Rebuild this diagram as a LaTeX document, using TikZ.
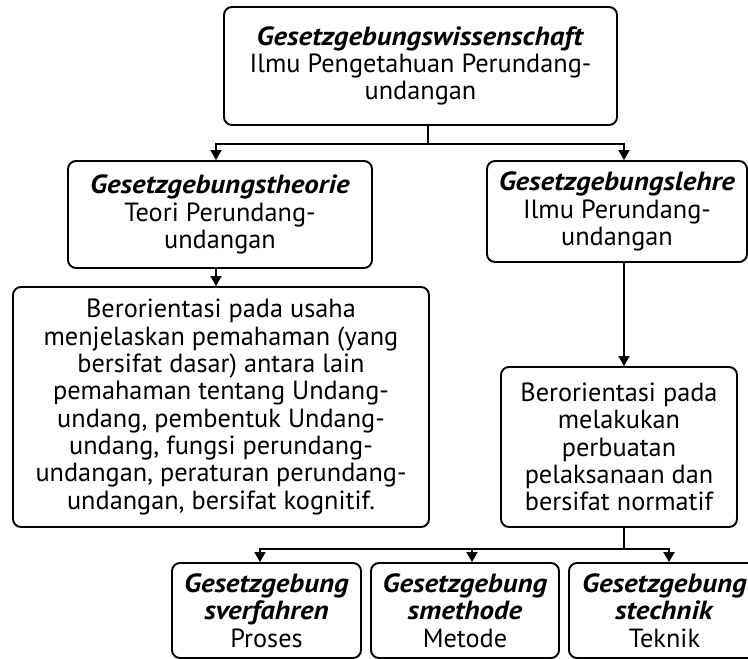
\documentclass[tikz,border=0pt]{standalone}
\usepackage{fontspec}
\setmainfont{PT Sans}[BoldItalicFeatures={FakeStretch=1.1}]
\usetikzlibrary{arrows.meta}
\begin{document}
\begin{tikzpicture}[x=1pt,y=-1pt,
  box/.style={draw, line width=1.9pt, rounded corners=8pt, align=center, inner sep=0pt,
    font=\fontsize{26.3}{27.3}\selectfont},
  conn/.style={line width=1.9pt},
  arr/.style={conn, -{Triangle[length=10pt,width=11pt]}}]
\useasboundingbox (0,0) rectangle (748,659);
\newcommand{\bi}[1]{\textbf{\textit{#1}}}
\node[box, minimum width=393, minimum height=118] (top) at (420.5,66)
  {\bi{Gesetzgebungswissenschaft}\\Ilmu Pengetahuan Perundang-\\undangan};
\node[box, minimum width=304, minimum height=107] (L2) at (220,214.5)
  {\bi{Gesetzgebungstheorie}\\Teori Perundang-\\undangan};
\node[box, minimum width=260, minimum height=101] (R2) at (617,211.5)
  {\bi{Gesetzgebungslehre}\\Ilmu Perundang-\\undangan};
\node[box, minimum width=416, minimum height=240] (L3) at (221,407)
  {Berorientasi pada usaha\\menjelaskan pemahaman (yang\\bersifat dasar) antara lain\\pemahaman tentang Undang-\\undang, pembentuk Undang-\\undang, fungsi perundang-\\undangan, peraturan perundang-\\undangan, bersifat kognitif.};
\node[box, minimum width=236, minimum height=160] (R4) at (619,447)
  {Berorientasi pada\\melakukan\\perbuatan\\pelaksanaan dan\\bersifat normatif};
\node[box, minimum width=189, minimum height=95] (B1) at (266.5,610.5)
  {\bi{Gesetzgebung}\\\bi{sverfahren}\\Proses};
\node[box, minimum width=188, minimum height=95] (B2) at (465,610.5)
  {\bi{Gesetzgebung}\\\bi{smethode}\\Metode};
\node[box, minimum width=191, minimum height=95] (B3) at (664.5,610.5)
  {\bi{Gesetzgebung}\\\bi{stechnik}\\Teknik};
\coordinate (jt) at (428,144);
\coordinate (xL) at (216,0);
\coordinate (xR) at (624,0);
\coordinate (jb) at (624,549);
\coordinate (x1) at (260,0);
\coordinate (x2) at (472,0);
\coordinate (x3) at (669,0);
\draw[conn] (top.south -| jt) -- (jt);
\draw[arr] (jt) -| (L2.north -| xL);
\draw[arr] (jt) -| (R2.north -| xR);
\draw[arr] (L2.south -| xL) -- (L3.north -| xL);
\draw[arr] (R2.south -| xR) -- (R4.north -| xR);
\draw[conn] (R4.south -| jb) -- (jb);
\draw[arr] (jb) -| (B1.north -| x1);
\draw[arr] (jb) -| (B2.north -| x2);
\draw[arr] (jb) -| (B3.north -| x3);
\end{tikzpicture}
\end{document}
